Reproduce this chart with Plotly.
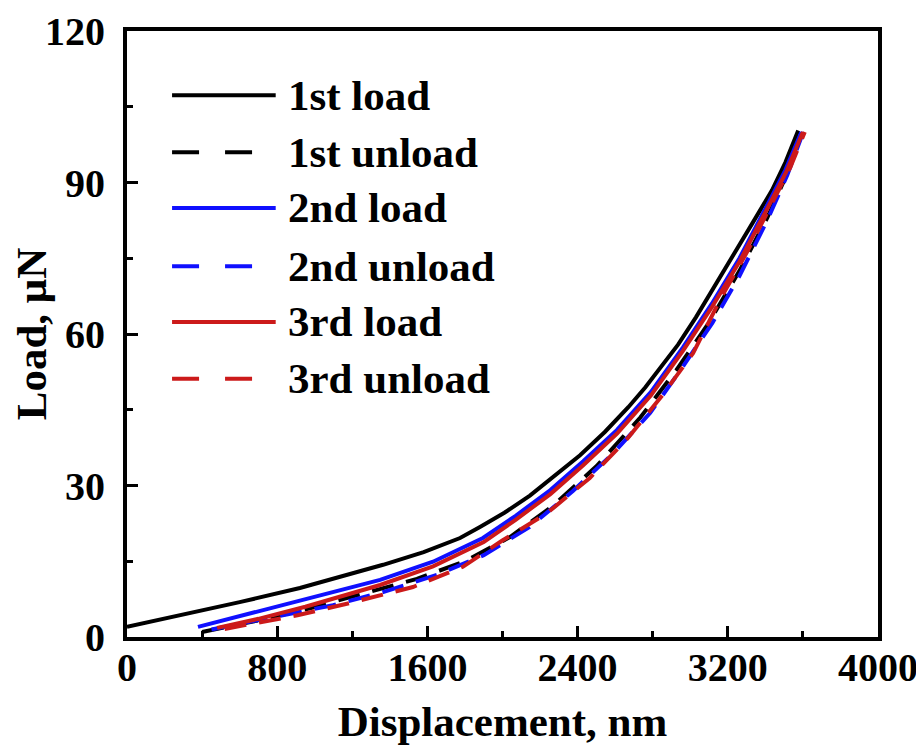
import plotly.graph_objects as go

# ---------------- data ----------------
load1_d = [0, 300, 600, 921, 1150, 1364, 1580, 1774, 1880, 2010, 2146, 2280, 2413, 2545,
           2670, 2760, 2845, 2935, 3030, 3140, 3255, 3345, 3436, 3507, 3575]
load1_v = [2.0, 4.4, 6.9, 9.7, 12.0, 14.3, 16.8, 19.6, 21.8, 24.6, 28.0, 31.9, 36.0, 40.6,
           45.5, 49.4, 53.5, 57.9, 63.3, 70.0, 77.2, 82.8, 88.5, 94.0, 100.3]

unload1_d = [400, 700, 975, 1241, 1544, 1800, 2040, 2270, 2500, 2735, 2925, 3095, 3262,
             3410, 3507, 3592]
unload1_v = [1.0, 3.3, 5.7, 8.5, 11.5, 15.0, 19.8, 26.0, 33.8, 43.5, 52.8, 62.0, 72.5,
             83.0, 91.0, 100.0]

load2_d = [378, 600, 815, 1050, 1348, 1630, 1896, 2070, 2255, 2430, 2610, 2790, 2962,
           3115, 3262, 3410, 3507, 3592]
load2_v = [2.0, 4.1, 6.2, 8.5, 11.3, 14.9, 19.6, 24.0, 29.1, 34.8, 41.0, 48.5, 57.4,
           66.0, 75.0, 85.5, 92.5, 100.0]

unload2_d = [450, 799, 1097, 1364, 1651, 1900, 2145, 2375, 2590, 2787, 2960, 3118, 3262,
             3410, 3517, 3602]
unload2_v = [1.5, 4.0, 6.3, 8.9, 12.3, 16.2, 21.8, 28.9, 36.4, 44.4, 53.5, 62.2, 71.5,
             82.5, 91.5, 100.0]

load3_d = [480, 700, 950, 1348, 1630, 1900, 2070, 2255, 2430, 2610, 2790, 2962, 3115,
           3262, 3410, 3510, 3600]
load3_v = [1.8, 3.6, 6.0, 10.3, 14.0, 18.8, 23.2, 28.3, 34.0, 40.3, 47.8, 56.7, 65.3,
           74.3, 84.8, 92.0, 100.0]

unload3_d = [520, 692, 908, 1195, 1523, 1789, 1995, 2240, 2465, 2668, 2852, 3015, 3166,
             3308, 3445, 3533, 3610]
unload3_v = [1.6, 2.8, 4.3, 6.8, 9.9, 13.9, 19.0, 24.6, 31.5, 39.4, 47.9, 56.2, 67.3,
             76.6, 86.5, 93.0, 100.0]

series_names = ["1st load", "1st unload", "2nd load", "2nd unload", "3rd load", "3rd unload"]
series_x = [load1_d, unload1_d, load2_d, unload2_d, load3_d, unload3_d]
series_y = [load1_v, unload1_v, load2_v, unload2_v, load3_v, unload3_v]
series_colors = ["#000000", "#000000", "#1010FF", "#1010FF", "#CC1A1A", "#CC1A1A"]
series_dash = ["solid", "22px,13px", "solid", "22px,13px", "solid", "22px,13px"]
legend_dash = ["solid", "27px,26px", "solid", "27px,26px", "solid", "27px,26px"]

x_ticks = [0, 800, 1600, 2400, 3200, 4000]
y_ticks = [0, 30, 60, 90, 120]

FONT = "Liberation Serif, Times New Roman, serif"

fig = go.Figure()
for name, xs, ys, c, dsh in zip(series_names, series_x, series_y, series_colors, series_dash):
    fig.add_trace(go.Scatter(x=xs, y=ys, mode="lines", name=name,
                             line=dict(color=c, width=4, dash=dsh), showlegend=False))

# manual legend (long sample lines like the reference)
leg_x0, leg_x1, leg_tx = 0.060, 0.198, 0.212
leg_y = [0.894, 0.800, 0.708, 0.612, 0.520, 0.426]
for name, c, dsh, yy in zip(series_names, series_colors, legend_dash, leg_y):
    fig.add_shape(type="line", xref="paper", yref="paper", x0=leg_x0, x1=leg_x1, y0=yy, y1=yy,
                  line=dict(color=c, width=4, dash=dsh))
    fig.add_annotation(xref="paper", yref="paper", x=leg_tx, y=yy, text=name, showarrow=False,
                       xanchor="left", yanchor="middle",
                       font=dict(family=FONT, size=43, color="black", weight="bold"))

axis_common = dict(showline=True, linewidth=4, linecolor="black", mirror=True,
                   ticks="inside", ticklen=11, tickwidth=3, tickcolor="black",
                   showgrid=False, zeroline=False, automargin=False,
                   tickfont=dict(family=FONT, size=40, color="black", weight="bold"))

fig.update_xaxes(range=[0, 4000], tickvals=x_ticks, ticklabelstandoff=-8,
                 minor=dict(dtick=400, ticks="inside", ticklen=6, tickwidth=3, tickcolor="black"),
                 title=dict(text="Displacement, nm", standoff=18,
                            font=dict(family=FONT, size=43, color="black", weight="bold")),
                 **axis_common)
fig.update_yaxes(range=[0, 120], tickvals=y_ticks, ticklabelstandoff=10,
                 minor=dict(dtick=15, ticks="inside", ticklen=6, tickwidth=3, tickcolor="black"),
                 title=dict(text="Load, μN", standoff=4,
                            font=dict(family=FONT, size=43, color="black", weight="bold")),
                 **axis_common)

fig.update_layout(width=924, height=751, paper_bgcolor="white", plot_bgcolor="white",
                  margin=dict(l=119, r=54, t=23, b=122), showlegend=False)

fig.write_html("out.html")
